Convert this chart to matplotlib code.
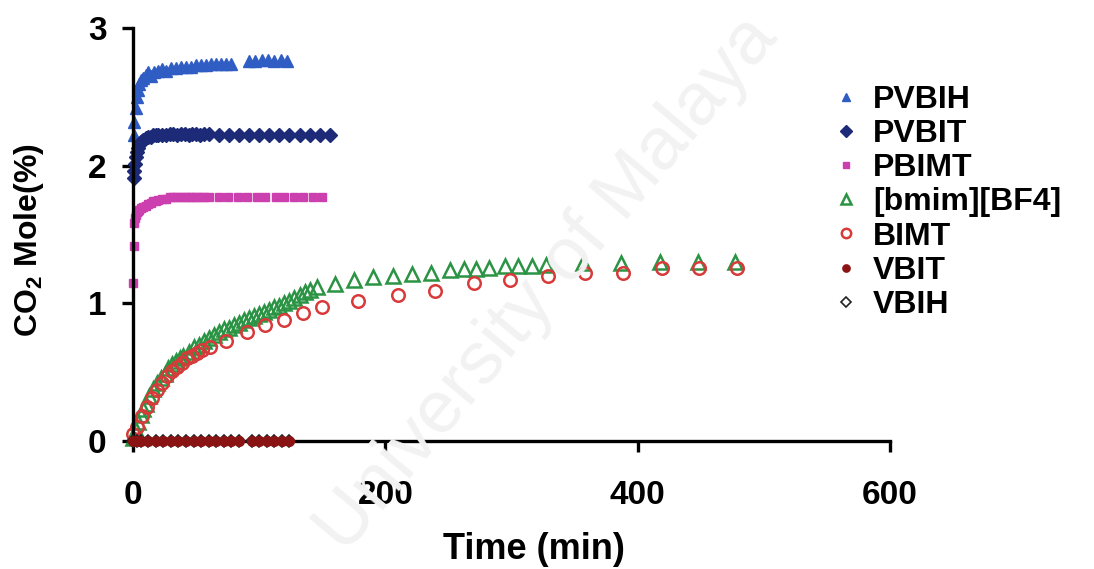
import matplotlib
matplotlib.use("Agg")
import matplotlib.pyplot as plt

plt.rcParams['font.family'] = ['Liberation Sans', 'DejaVu Sans']
plt.rcParams['font.weight'] = 'bold'
plt.rcParams['mathtext.fontset'] = 'custom'
plt.rcParams['mathtext.rm'] = 'Liberation Sans:bold'
plt.rcParams['mathtext.bf'] = 'Liberation Sans:bold'

# ---------------- data ----------------
pvbih_t = [0.5, 1, 2, 3, 4, 5, 6, 8, 10, 12, 14, 17, 20, 23, 26, 30, 34, 38, 42, 46,
           50, 54, 58, 62, 66, 70, 74, 78, 92, 97, 102, 107, 112, 117, 122]
pvbih_v = [2.22, 2.32, 2.42, 2.50, 2.55, 2.59, 2.62, 2.64, 2.66, 2.68, 2.65, 2.68, 2.69,
           2.70, 2.69, 2.71, 2.71, 2.72, 2.72, 2.72, 2.73, 2.73, 2.73, 2.74, 2.74, 2.74,
           2.74, 2.74, 2.76, 2.76, 2.77, 2.77, 2.76, 2.77, 2.76]

pvbit_t = [0.5, 1, 1.5, 2, 3, 4, 5, 6, 7, 8, 10, 12, 14, 16, 18, 20, 23, 26, 29, 32, 35,
           38, 41, 44, 47, 50, 53, 56, 60, 68, 76, 84, 92, 100, 108, 116, 124, 132, 140,
           148, 156]
pvbit_v = [1.91, 1.96, 2.01, 2.06, 2.10, 2.13, 2.15, 2.17, 2.18, 2.19, 2.20, 2.21, 2.21,
           2.22, 2.22, 2.22, 2.22, 2.22, 2.23, 2.23, 2.22, 2.23, 2.23, 2.22, 2.23, 2.23,
           2.22, 2.23, 2.23, 2.22, 2.22, 2.22, 2.22, 2.22, 2.22, 2.22, 2.22, 2.22, 2.22,
           2.22, 2.22]

pbimt_t = [0, 0.5, 1, 1.5, 2, 3, 4, 5, 6, 8, 10, 12, 14, 16, 18, 20, 23, 26, 29, 32, 35,
           38, 41, 44, 47, 50, 53, 56, 60, 68, 75, 83, 90, 98, 105, 113, 120, 128, 135,
           143, 150]
pbimt_v = [1.15, 1.42, 1.58, 1.62, 1.64, 1.66, 1.67, 1.68, 1.69, 1.70, 1.71, 1.72, 1.73,
           1.74, 1.74, 1.75, 1.76, 1.76, 1.77, 1.77, 1.77, 1.77, 1.77, 1.77, 1.77, 1.77,
           1.77, 1.77, 1.77, 1.77, 1.77, 1.77, 1.77, 1.77, 1.77, 1.77, 1.77, 1.77, 1.77,
           1.77, 1.77]

bmim_t = [0, 2, 4, 6, 8, 10, 13, 16, 19, 22, 25, 28, 31, 34, 37, 40, 44, 48, 52, 56, 60,
          64, 68, 72, 76, 80, 84, 88, 92, 96, 100, 104, 108, 112, 116, 120, 124, 128, 132,
          136, 140, 146, 160, 175, 190, 206, 221, 236, 251, 262, 272, 282, 295, 305, 316,
          327, 357, 387, 418, 448, 477]
bmim_v = [0.02, 0.08, 0.14, 0.19, 0.23, 0.27, 0.33, 0.38, 0.42, 0.46, 0.49, 0.53, 0.56,
          0.58, 0.60, 0.62, 0.65, 0.68, 0.70, 0.73, 0.75, 0.77, 0.79, 0.81, 0.82, 0.84,
          0.86, 0.88, 0.89, 0.91, 0.92, 0.94, 0.95, 0.97, 0.98, 1.00, 1.02, 1.04, 1.06,
          1.08, 1.10, 1.12, 1.14, 1.17, 1.19, 1.20, 1.21, 1.22, 1.24, 1.25, 1.25, 1.26,
          1.27, 1.27, 1.27, 1.28, 1.29, 1.29, 1.30, 1.30, 1.30]

bimt_t = [0, 3, 7.5, 11, 15, 19, 23, 27, 31, 35, 39, 43, 47, 51, 55, 61, 74, 90, 105,
          120, 135, 150, 178, 210, 239, 270, 299, 329, 358, 388, 419, 449, 479]
bimt_v = [0.05, 0.10, 0.18, 0.25, 0.31, 0.37, 0.42, 0.47, 0.51, 0.54, 0.57, 0.60, 0.62,
          0.64, 0.66, 0.68, 0.73, 0.79, 0.84, 0.88, 0.93, 0.97, 1.02, 1.06, 1.09, 1.15,
          1.17, 1.20, 1.22, 1.22, 1.26, 1.26, 1.26]

vbit_t = [0, 3, 6, 12, 18, 24, 30, 36, 42, 48, 54, 60, 66, 72, 78, 84, 94, 100, 106, 112,
          118, 124]
vbit_v = [0.0] * len(vbit_t)

vbih_t = [0, 3, 6, 12, 18, 24, 30, 36, 42, 48, 54, 60, 66, 72, 78, 84, 94, 100, 106, 112,
          118, 124]
vbih_v = [0.0] * len(vbih_t)

labels = ['PVBIH', 'PVBIT', 'PBIMT', '[bmim][BF4]', 'BIMT', 'VBIT', 'VBIH']
xticks = [0, 200, 400, 600]
yticks = [0, 1, 2, 3]

# ---------------- figure ----------------
fig = plt.figure(figsize=(10.94, 5.69), dpi=100)
fig.patch.set_facecolor('white')
ax = fig.add_axes([133/1094, 1-441/569, (890-133)/1094, (441-28)/569])
ax.set_facecolor('none')

# faint watermark (kept fully inside the canvas)
fig.text(0.50, 0.50, 'University of Malaya', rotation=50, fontsize=54,
         color='#f2f2f2', fontweight='normal', ha='center', va='center', zorder=0,
         family=['Liberation Sans', 'DejaVu Sans'])

h = []
h.append(ax.plot(pvbih_t, pvbih_v, ls='none', marker='^', ms=8, color='#2f5dc4',
                 mec='#2f5dc4', clip_on=False)[0])
h.append(ax.plot(pvbit_t, pvbit_v, ls='none', marker='D', ms=7.5, color='#1c2a78',
                 mec='#1c2a78', clip_on=False)[0])
h.append(ax.plot(pbimt_t, pbimt_v, ls='none', marker='s', ms=5.5, color='#cc3fae',
                 mec='#cc3fae', clip_on=False)[0])
h.append(ax.plot(bmim_t, bmim_v, ls='none', marker='^', ms=10, mfc='none',
                 mec='#2b9444', mew=1.8, clip_on=False)[0])
h.append(ax.plot(bimt_t, bimt_v, ls='none', marker='o', ms=9, mfc='none',
                 mec='#d83a3a', mew=1.8, clip_on=False)[0])
h.append(ax.plot(vbit_t, vbit_v, ls='none', marker='o', ms=7, color='#8a1414',
                 mec='#8a1414', clip_on=False, zorder=4)[0])
h.append(ax.plot(vbih_t, vbih_v, ls='none', marker='D', ms=6.5, mfc='none',
                 mec='#222222', mew=1.2, clip_on=False, zorder=3)[0])

ax.set_xlim(0, 600)
ax.set_ylim(0, 3)
ax.set_xticks(xticks)
ax.set_yticks(yticks)
ax.set_xticklabels([str(v) for v in xticks])
ax.set_yticklabels([str(v) for v in yticks])

for s in ['top', 'right']:
    ax.spines[s].set_visible(False)
for s in ['left', 'bottom']:
    ax.spines[s].set_linewidth(2.4)
    ax.spines[s].set_color('black')
ax.tick_params(axis='both', direction='out', length=8, width=2.4, labelsize=24)
ax.tick_params(axis='x', pad=20)
ax.tick_params(axis='y', pad=11)
for lab in ax.get_xticklabels() + ax.get_yticklabels():
    lab.set_fontweight('bold')

ax.set_xlabel('Time (min)', fontsize=26, fontweight='bold')
ax.xaxis.set_label_coords((534-133)/757, -(532-441)/413)
ax.set_ylabel(r'CO$_\mathbf{2}$ Mole(%)', fontsize=23, fontweight='bold')
ax.yaxis.set_label_coords(-(133-46)/757, (441-240)/413)

leg = fig.legend(h, labels, loc='upper left', bbox_to_anchor=(814/1094, 1-69/569),
                 frameon=False, markerscale=0.75, handlelength=1.0,
                 handletextpad=0.35, labelspacing=0.13, borderpad=0,
                 prop={'weight': 'bold', 'size': 23})

fig.savefig('out.png', dpi=100, facecolor='white')
